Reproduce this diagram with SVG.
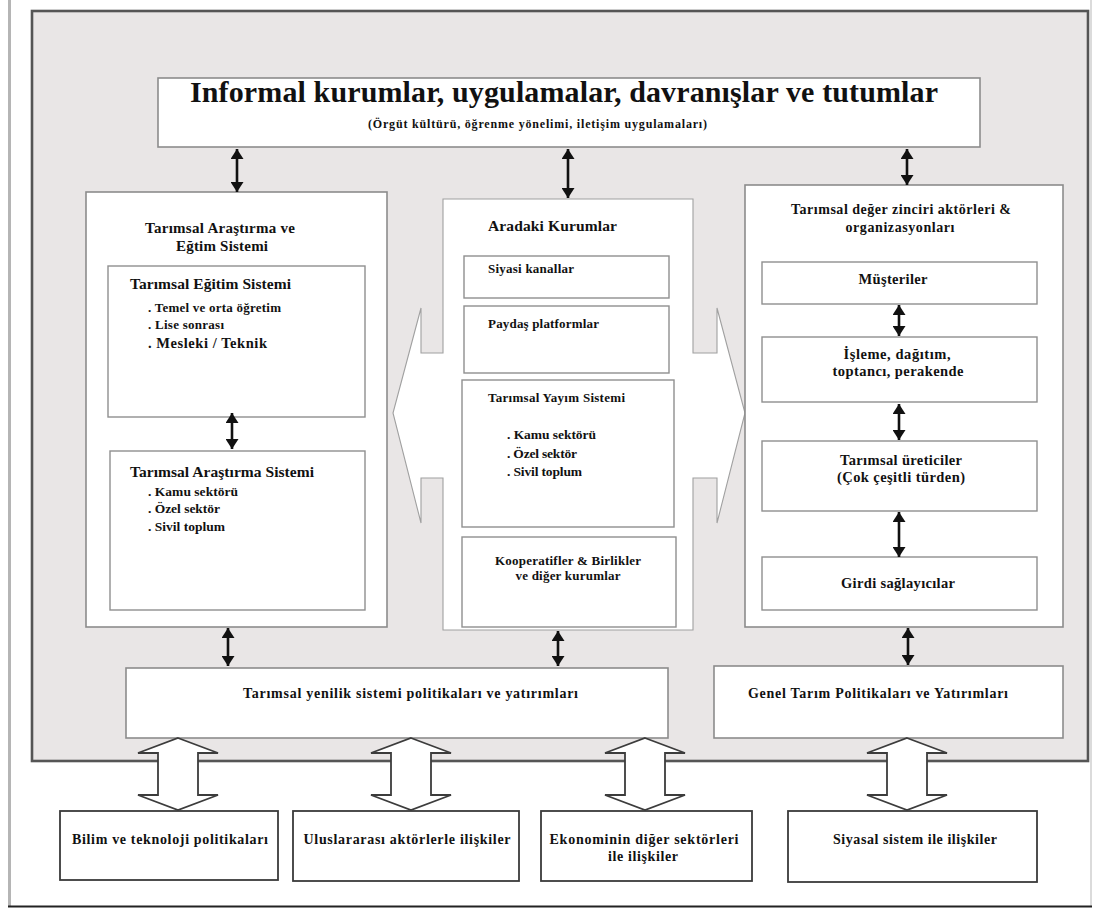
<svg xmlns="http://www.w3.org/2000/svg" xmlns:xlink="http://www.w3.org/1999/xlink" width="1095" height="908" viewBox="0 0 1095 908">
  <style>
    .t { font-family: "Liberation Serif", "Times New Roman", serif; font-weight: bold; fill: #111; }
    .c { text-anchor: middle; }
    .box { fill: #fff; stroke: #8c8c8c; stroke-width: 1.6; }
    .inner { fill: #fff; stroke: #8f8f8f; stroke-width: 1.4; }
    .ext { fill: #fff; stroke: #3a3a3a; stroke-width: 1.8; }
    .mid { fill: #fff; stroke: #a0a0a0; stroke-width: 1.1; }
    .link { stroke: #111; stroke-width: 2.6; fill: none; marker-start: url(#ah); marker-end: url(#ah); }
    .big { fill: #fff; stroke: #3c3c3c; stroke-width: 1.8; stroke-linejoin: miter; }
  </style>
  <defs>
    <marker id="ah" viewBox="0 0 10 13" refX="10" refY="6.5" markerWidth="10" markerHeight="13" markerUnits="userSpaceOnUse" orient="auto-start-reverse">
      <path d="M0,0 L10,6.5 L0,13 Z" fill="#111"/>
    </marker>
    <path id="bigArrow" d="M0,0 L40,15 L20,15 L20,57 L40,57 L0,72 L-40,57 L-20,57 L-20,15 L-40,15 Z"/>
  </defs>

  <!-- page -->
  <rect x="0" y="0" width="1095" height="908" fill="#fff"/>
  <line x1="9.5" y1="0" x2="9.5" y2="906" stroke="#b5b5b5" stroke-width="3"/>
  <line x1="1091" y1="0" x2="1091" y2="906" stroke="#cfcfcf" stroke-width="1.5"/>
  <line x1="8" y1="906.5" x2="1092" y2="906.5" stroke="#222" stroke-width="2"/>

  <!-- system panel -->
  <rect x="32" y="11" width="1056" height="750" fill="#e9e6e6" stroke="#555" stroke-width="2.6"/>

  <!-- informal institutions -->
  <g id="informal">
    <rect class="box" x="158" y="78" width="822" height="69"/>
    <text class="t" x="190" y="102" font-size="30" textLength="748">Informal kurumlar, uygulamalar, davranışlar ve tutumlar</text>
    <text class="t" x="368" y="128" font-size="12" textLength="339">(Örgüt kültürü, öğrenme yönelimi, iletişim uygulamaları)</text>
  </g>

  <!-- research and education -->
  <g id="research-education">
    <rect class="box" x="86" y="192" width="301" height="435"/>
    <text class="t" x="145" y="233" font-size="15" textLength="150">Tarımsal Araştırma ve</text>
    <text class="t" x="176" y="251" font-size="15" textLength="92">Eğtim Sistemi</text>
    <g id="education">
      <rect class="inner" x="108" y="266" width="257" height="151"/>
      <text class="t" x="130" y="289" font-size="15.5" textLength="161">Tarımsal Eğitim Sistemi</text>
      <text class="t" x="148" y="312" font-size="13" textLength="133">. Temel ve orta öğretim</text>
      <text class="t" x="148" y="329" font-size="13" textLength="76">. Lise sonrası</text>
      <text class="t" x="148" y="348" font-size="14.5" textLength="119">. Mesleki / Teknik</text>
    </g>
    <g id="research">
      <rect class="inner" x="110" y="451" width="255" height="159"/>
      <text class="t" x="130" y="477" font-size="15.5" textLength="184">Tarımsal Araştırma Sistemi</text>
      <text class="t" x="148" y="496" font-size="13.5" textLength="90">. Kamu sektörü</text>
      <text class="t" x="148" y="513" font-size="13.5" textLength="72">. Özel sektör</text>
      <text class="t" x="148" y="531" font-size="13.5" textLength="77">. Sivil toplum</text>
    </g>
  </g>

  <!-- bridging institutions -->
  <g id="bridging">
    <path class="mid" d="M443,199 L693,199 L693,353 L717,353 L717,308 L745,413 L717,523 L717,478 L693,478 L693,630 L443,630 L443,478 L421,478 L421,523 L393,413 L421,308 L421,353 L443,353 Z"/>
    <text class="t" x="488" y="231" font-size="15.5" textLength="129">Aradaki Kurumlar</text>
    <g id="political-channels">
      <rect class="inner" x="464" y="256" width="205" height="42"/>
      <text class="t" x="488" y="273" font-size="13" textLength="86">Siyasi kanallar</text>
    </g>
    <g id="platforms">
      <rect class="inner" x="464" y="306" width="205" height="67"/>
      <text class="t" x="488" y="328" font-size="13" textLength="111">Paydaş platformlar</text>
    </g>
    <g id="extension">
      <rect class="inner" x="462" y="380" width="212" height="147"/>
      <text class="t" x="488" y="402" font-size="13" textLength="137">Tarımsal Yayım Sistemi</text>
      <text class="t" x="507" y="439" font-size="13.5" textLength="89">. Kamu sektörü</text>
      <text class="t" x="507" y="458" font-size="13.5" textLength="70">. Özel sektör</text>
      <text class="t" x="507" y="476" font-size="13.5" textLength="75">. Sivil toplum</text>
    </g>
    <g id="cooperatives">
      <rect class="inner" x="462" y="537" width="214" height="90"/>
      <text class="t c" x="568" y="565" font-size="13" textLength="146">Kooperatifler &amp; Birlikler</text>
      <text class="t c" x="568" y="580" font-size="13" textLength="105">ve diğer kurumlar</text>
    </g>
  </g>

  <!-- value chain -->
  <g id="value-chain">
    <rect class="box" x="745" y="185" width="318" height="442"/>
    <text class="t c" x="901" y="214" font-size="14" textLength="220">Tarımsal değer zinciri aktörleri &amp;</text>
    <text class="t c" x="900" y="232" font-size="14" textLength="109">organizasyonları</text>
    <g id="consumers">
      <rect class="inner" x="762" y="262" width="275" height="42"/>
      <text class="t c" x="893" y="284" font-size="14.5" textLength="69">Müşteriler</text>
    </g>
    <g id="processing">
      <rect class="inner" x="762" y="337" width="275" height="65"/>
      <text class="t c" x="897" y="359" font-size="14.5" textLength="107">İşleme, dağıtım,</text>
      <text class="t c" x="898" y="376" font-size="14.5" textLength="131">toptancı, perakende</text>
    </g>
    <g id="producers">
      <rect class="inner" x="762" y="441" width="275" height="70"/>
      <text class="t c" x="901" y="465" font-size="14.5" textLength="122">Tarımsal üreticiler</text>
      <text class="t c" x="901" y="482" font-size="14.5" textLength="128">(Çok çeşitli türden)</text>
    </g>
    <g id="input-suppliers">
      <rect class="inner" x="762" y="557" width="275" height="53"/>
      <text class="t c" x="898" y="588" font-size="14.5" textLength="114">Girdi sağlayıcılar</text>
    </g>
  </g>

  <!-- policies -->
  <g id="ais-policies">
    <rect class="box" x="126" y="668" width="542" height="70"/>
    <text class="t" x="243" y="698" font-size="14" textLength="335">Tarımsal yenilik sistemi politikaları ve yatırımları</text>
  </g>
  <g id="general-policies">
    <rect class="box" x="714" y="666" width="349" height="72"/>
    <text class="t c" x="878" y="698" font-size="14" textLength="260">Genel Tarım Politikaları ve Yatırımları</text>
  </g>

  <!-- external links -->
  <g id="science-policy">
    <rect class="ext" x="60" y="811" width="218" height="69"/>
    <text class="t c" x="170" y="844" font-size="14" textLength="196">Bilim ve teknoloji politikaları</text>
  </g>
  <g id="international">
    <rect class="ext" x="293" y="811" width="226" height="70"/>
    <text class="t c" x="407" y="844" font-size="14" textLength="207">Uluslararası aktörlerle ilişkiler</text>
  </g>
  <g id="other-sectors">
    <rect class="ext" x="541" y="811" width="211" height="70"/>
    <text class="t c" x="644" y="844" font-size="14" textLength="189">Ekonominin diğer sektörleri</text>
    <text class="t c" x="643" y="861" font-size="14" textLength="70">ile ilişkiler</text>
  </g>
  <g id="political-system">
    <rect class="ext" x="788" y="811" width="249" height="71"/>
    <text class="t c" x="915" y="844" font-size="14" textLength="164">Siyasal sistem ile ilişkiler</text>
  </g>

  <!-- connectors -->
  <g id="connectors">
    <line class="link" x1="237" y1="149" x2="237" y2="192"/>
    <line class="link" x1="568" y1="149" x2="568" y2="198"/>
    <line class="link" x1="907" y1="149" x2="907" y2="185"/>
    <line class="link" x1="232" y1="413" x2="232" y2="449"/>
    <line class="link" x1="899" y1="305" x2="899" y2="336"/>
    <line class="link" x1="899" y1="404" x2="899" y2="440"/>
    <line class="link" x1="899" y1="512" x2="899" y2="557"/>
    <line class="link" x1="228" y1="628" x2="228" y2="666"/>
    <line class="link" x1="558" y1="631" x2="558" y2="666"/>
    <line class="link" x1="908" y1="628" x2="908" y2="665"/>
    <use xlink:href="#bigArrow" class="big" x="178" y="738"/>
    <use xlink:href="#bigArrow" class="big" x="411" y="738"/>
    <use xlink:href="#bigArrow" class="big" x="645" y="738"/>
    <use xlink:href="#bigArrow" class="big" x="907" y="738"/>
  </g>
</svg>
